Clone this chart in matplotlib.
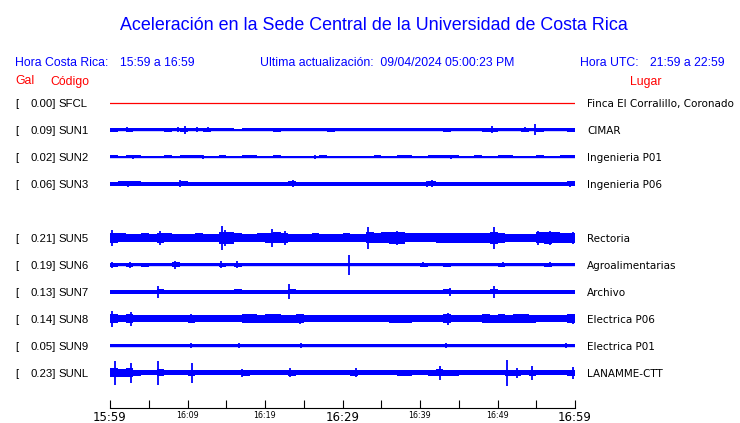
import numpy as np
import matplotlib
matplotlib.use('Agg')
import matplotlib.pyplot as plt
from matplotlib.transforms import blended_transform_factory

W, H = 740, 423

## station data
codes = ['SFCL', 'SUN1', 'SUN2', 'SUN3', 'SUN5', 'SUN6', 'SUN7', 'SUN8', 'SUN9', 'SUNL']
gal = ['0.00', '0.09', '0.02', '0.06', '0.21', '0.19', '0.13', '0.14', '0.05', '0.23']
places = ['Finca El Corralillo, Coronado', 'CIMAR', 'Ingenieria P01', 'Ingenieria P06',
          'Rectoria', 'Agroalimentarias', 'Archivo', 'Electrica P06', 'Electrica P01',
          'LANAMME-CTT']
rows = [0, 1, 2, 3, 5, 6, 7, 8, 9, 10]

# half-amplitude of each trace, one value per minute
env = {
    'SFCL': [0.0] * 60,
    'SUN1': [2.0, 1.5, 2.0, 1.5, 1.5, 1.5, 1.5, 2.0, 1.5, 2.0,
             1.5, 1.5, 2.0, 1.5, 1.5, 1.5, 1.0, 1.5, 1.5, 1.5,
             1.5, 2.0, 1.5, 1.5, 1.5, 1.5, 1.5, 1.5, 2.0, 1.5,
             1.5, 1.5, 1.5, 1.5, 1.5, 1.5, 1.5, 1.5, 1.5, 1.5,
             1.5, 1.5, 1.5, 2.0, 1.5, 1.5, 1.5, 1.5, 2.0, 2.0,
             1.5, 1.5, 1.5, 2.0, 1.5, 2.0, 1.5, 1.5, 1.5, 2.0],
    'SUN2': [1.5, 1.0, 1.5, 1.5, 1.0, 1.0, 1.0, 1.5, 1.0, 1.5,
             1.5, 1.5, 1.0, 1.0, 1.5, 1.0, 1.0, 1.5, 1.5, 1.0,
             1.0, 1.5, 1.0, 0.5, 1.0, 1.0, 1.0, 1.5, 1.0, 1.0,
             1.0, 0.5, 1.0, 1.0, 1.5, 1.0, 1.0, 1.5, 1.5, 1.0,
             1.0, 1.5, 1.5, 1.5, 1.5, 1.0, 1.0, 1.5, 1.0, 1.0,
             1.5, 1.5, 1.0, 1.0, 1.0, 1.5, 1.0, 1.0, 1.5, 1.5],
    'SUN3': [2.0, 2.5, 2.5, 2.5, 2.0, 2.0, 2.0, 2.0, 2.0, 2.5,
             2.0, 2.0, 2.0, 2.0, 2.0, 2.0, 2.0, 2.0, 2.0, 2.0,
             2.0, 2.0, 2.0, 2.5, 2.0, 2.0, 2.0, 2.0, 2.0, 2.0,
             2.0, 2.0, 2.0, 2.0, 2.0, 2.0, 2.0, 2.0, 2.0, 2.0,
             2.0, 2.5, 2.0, 2.0, 2.0, 2.0, 2.0, 2.0, 2.0, 2.0,
             2.0, 2.0, 2.0, 2.0, 2.0, 2.0, 2.0, 2.0, 2.0, 2.5],
    'SUN5': [5.0, 4.5, 4.0, 4.0, 4.5, 4.0, 5.0, 4.5, 4.0, 4.0,
             4.0, 4.5, 4.0, 4.0, 6.0, 6.0, 4.5, 4.0, 4.0, 4.5,
             5.0, 5.5, 5.0, 4.0, 4.0, 4.0, 4.5, 4.0, 4.0, 4.0,
             4.5, 4.0, 4.0, 5.5, 5.0, 5.5, 6.0, 6.0, 4.5, 4.5,
             4.5, 4.5, 5.0, 5.0, 5.0, 5.0, 5.0, 5.0, 5.0, 6.0,
             5.0, 4.0, 4.0, 4.0, 4.0, 5.5, 6.0, 5.5, 5.0, 5.0],
    'SUN6': [2.0, 1.5, 2.0, 1.5, 2.0, 1.5, 1.5, 1.5, 2.5, 1.5,
             1.5, 1.5, 1.5, 1.5, 2.0, 1.5, 2.0, 1.5, 1.5, 1.5,
             1.5, 1.5, 1.5, 1.5, 1.5, 1.5, 1.5, 1.5, 1.5, 1.5,
             1.5, 1.5, 1.5, 1.5, 1.5, 1.5, 1.5, 1.5, 1.5, 1.5,
             2.0, 1.5, 1.5, 2.0, 1.5, 1.5, 1.5, 1.5, 1.5, 1.5,
             2.0, 1.5, 1.5, 1.5, 1.5, 1.5, 2.0, 1.5, 1.5, 1.5],
    'SUN7': [2.0, 2.0, 2.0, 2.0, 2.0, 2.0, 2.5, 2.0, 2.0, 2.0,
             2.0, 2.0, 2.0, 2.0, 2.0, 2.0, 2.5, 2.0, 2.0, 2.0,
             2.0, 2.0, 2.0, 2.5, 2.0, 2.0, 2.0, 2.0, 2.0, 2.0,
             2.0, 2.0, 2.0, 2.0, 2.0, 2.0, 2.0, 2.0, 2.0, 2.0,
             2.0, 2.0, 2.0, 2.5, 2.0, 2.0, 2.0, 2.0, 2.0, 2.5,
             2.0, 2.0, 2.0, 2.0, 2.0, 2.0, 2.0, 2.0, 2.0, 2.0],
    'SUN8': [4.5, 3.5, 4.5, 3.5, 3.5, 3.5, 3.5, 3.5, 3.5, 3.5,
             4.0, 3.5, 3.5, 3.5, 3.5, 3.5, 3.5, 4.5, 4.5, 4.0,
             4.5, 4.5, 4.0, 4.0, 4.5, 3.5, 3.5, 3.5, 3.5, 3.5,
             3.5, 3.5, 3.5, 3.5, 3.5, 3.5, 4.0, 4.0, 4.0, 3.5,
             3.5, 3.5, 3.5, 4.5, 3.5, 3.5, 3.5, 3.5, 4.5, 4.0,
             4.5, 4.0, 4.5, 4.5, 4.0, 3.5, 3.5, 3.5, 3.5, 4.5],
    'SUN9': [1.5, 1.5, 1.5, 1.5, 1.5, 1.5, 1.5, 1.5, 1.5, 1.5,
             1.5, 1.5, 1.5, 1.5, 1.5, 1.5, 1.5, 1.5, 1.5, 1.5,
             1.5, 1.5, 1.5, 1.5, 1.5, 1.5, 1.5, 1.5, 1.5, 1.5,
             1.5, 1.5, 1.5, 1.5, 1.5, 1.5, 1.5, 1.5, 1.5, 1.5,
             1.5, 1.5, 1.5, 1.5, 1.5, 1.5, 1.5, 1.5, 1.5, 1.5,
             1.5, 1.5, 1.5, 1.5, 1.5, 1.5, 1.5, 1.5, 1.5, 1.5],
    'SUNL': [4.5, 4.0, 4.5, 3.0, 2.5, 2.5, 3.5, 2.5, 2.5, 2.5,
             3.0, 2.5, 2.5, 2.5, 2.5, 2.5, 2.5, 3.0, 2.5, 2.5,
             2.5, 2.5, 2.5, 3.0, 2.5, 2.5, 2.5, 2.5, 2.5, 2.5,
             2.5, 3.0, 2.5, 2.5, 2.5, 2.5, 2.5, 3.0, 3.0, 2.5,
             2.5, 3.0, 3.5, 3.0, 3.0, 2.5, 2.5, 2.5, 2.5, 2.5,
             2.5, 3.0, 3.0, 2.5, 3.0, 2.5, 2.5, 2.5, 2.5, 3.0],
}

# isolated spikes: (minute, half-amplitude)
spikes = {
    'SFCL': [],
    'SUN1': [(2.2, 2.5), (2.8, 2.0), (8.8, 2.5), (9.7, 4.0), (11.2, 2.5), (12.6, 2.5),
             (49.3, 3.5), (53.6, 2.5), (54.9, 5.5)],
    'SUN2': [(3.0, 2.0), (12.0, 2.0), (26.5, 2.0), (44.0, 2.0)],
    'SUN3': [(2.3, 3.0), (9.0, 3.5), (23.6, 3.5), (40.9, 3.0), (41.5, 3.5), (59.4, 3.0)],
    'SUN5': [(0.2, 8.0), (6.5, 7.0), (14.4, 12.0), (14.9, 8.0), (20.9, 9.0), (22.6, 7.0),
             (33.3, 11.0), (37.0, 7.0), (49.5, 11.0), (55.2, 7.0), (56.8, 7.0), (59.8, 6.0)],
    'SUN6': [(0.2, 3.0), (2.6, 3.0), (8.4, 4.0), (14.3, 3.5), (16.4, 3.5), (30.9, 10.0),
             (40.4, 2.5), (50.7, 2.5), (56.8, 2.5)],
    'SUN7': [(6.2, 6.0), (23.1, 7.5), (43.9, 4.0), (49.5, 6.0)],
    'SUN8': [(0.2, 8.0), (2.7, 7.0), (10.5, 4.5), (24.5, 5.0), (43.6, 6.0), (59.8, 5.0)],
    'SUN9': [(10.5, 2.5), (16.6, 2.5), (24.6, 2.5), (43.4, 2.5), (58.9, 2.5)],
    'SUNL': [(0.6, 12.0), (2.7, 10.0), (6.2, 12.0), (10.6, 10.0), (17.0, 4.0), (23.2, 4.5),
             (31.8, 4.5), (42.6, 7.0), (51.2, 13.0), (52.5, 5.0), (54.4, 7.0), (59.8, 6.0)],
}

major_ticks = [0, 30, 60]
major_labels = ['15:59', '16:29', '16:59']
minor_ticks = [5, 10, 15, 20, 25, 35, 40, 45, 50, 55]
minor_labels = ['', '16:09', '', '16:19', '', '', '16:39', '', '16:49', '']

title = 'Aceleración en la Sede Central de la Universidad de Costa Rica'
BLUE = '#0000ff'
RED = '#ff0000'
ROW = 27          # pixels between traces
SANS = ['Liberation Sans', 'DejaVu Sans']


def fx(px):
    return px / W


def fy(py):
    return 1 - py / H


fig = plt.figure(figsize=(W / 100, H / 100), dpi=100)
ax = fig.add_axes([fx(110), fy(408), 465 / W, (408 - 86) / H])
ax.set_xlim(0, 60)
ax.set_ylim(408 - 103, 86 - 103)

t = np.arange(61)
for code, r in zip(codes, rows):
    y0 = r * ROW
    if code == 'SFCL':
        ax.plot([0, 60], [y0, y0], color=RED, lw=0.9)
        continue
    a = np.array(env[code] + env[code][-1:])
    ax.fill_between(t, y0 - a, y0 + a, step='post', color=BLUE, lw=0, antialiased=False)
    ax.plot([0, 60], [y0, y0], color=BLUE, lw=1.0)
    for m, amp in spikes[code]:
        ax.vlines(m, y0 - amp, y0 + amp, color=BLUE, lw=1.3)

for s in ['top', 'left', 'right']:
    ax.spines[s].set_visible(False)
ax.spines['bottom'].set_linewidth(0.8)
ax.set_yticks([])
ax.set_xticks(major_ticks)
ax.set_xticklabels(major_labels)
ax.set_xticks(minor_ticks, minor=True)
ax.set_xticklabels(minor_labels, minor=True)
ax.tick_params(axis='x', which='both', direction='in', length=5.5, width=0.8, pad=2)
ax.tick_params(axis='x', which='major', labelsize=8.5)
ax.tick_params(axis='x', which='minor', labelsize=5.8)

## header
fig.text(fx(374), fy(29.5), title, ha='center', va='baseline', color=BLUE,
         fontsize=12.9, family=SANS)
hdr = dict(va='baseline', color=BLUE, fontsize=8.8, family=SANS)
fig.text(fx(15), fy(65.5), 'Hora Costa Rica:', **hdr)
fig.text(fx(120), fy(65.5), '15:59 a 16:59', **hdr)
fig.text(fx(260), fy(65.5), 'Ultima actualización:  09/04/2024 05:00:23 PM', **hdr)
fig.text(fx(580), fy(65.5), 'Hora UTC:', **hdr)
fig.text(fx(650), fy(65.5), '21:59 a 22:59', **hdr)
red = dict(va='baseline', color=RED, fontsize=8.8, family=SANS)
fig.text(fx(15), fy(84.5), 'Gal', **red)
fig.text(fx(50), fy(84.5), 'Código', **red)
fig.text(fx(630), fy(84.5), 'Lugar', **red)

## station labels
trans = blended_transform_factory(fig.transFigure, ax.transData)
for code, g, place, r in zip(codes, gal, places, rows):
    yb = r * ROW + 4
    fig.text(fx(15), yb, '[', transform=trans, va='baseline', fontsize=8.2, family=SANS)
    fig.text(fx(55.5), yb, g + ']', transform=trans, va='baseline', ha='right',
             fontsize=8.2, family=SANS)
    fig.text(fx(58), yb, code, transform=trans, va='baseline', fontsize=8.2, family=SANS)
    fig.text(fx(587), yb, place, transform=trans, va='baseline', fontsize=7.5,
             family=['DejaVu Sans'])

fig.savefig('out.png', dpi=100)
